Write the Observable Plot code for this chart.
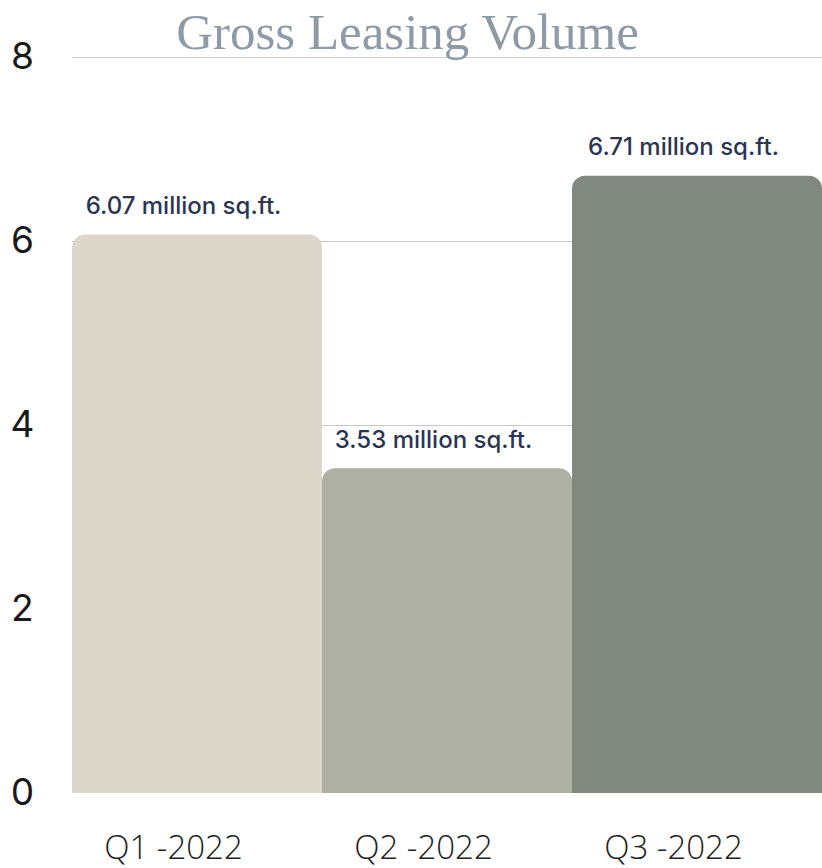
<!DOCTYPE html>
<html><head><meta charset="utf-8">
<script src="https://cdn.jsdelivr.net/npm/d3@7"></script>
<script src="https://cdn.jsdelivr.net/npm/@observablehq/plot@0.6"></script>
<style>body{margin:0;background:#fff}</style>
</head><body><div id="chart"></div>
<script>
const quarters = ["Q1 -2022", "Q2 -2022", "Q3 -2022"];
const values = [6.07, 3.53, 6.71];
const valueLabels = ["6.07 million sq.ft.", "3.53 million sq.ft.", "6.71 million sq.ft."];
const barColors = ["#ddd6cb", "#adb0a3", "#81887d"];
const yTicks = [0, 2, 4, 6, 8];
const gridTicks = [2, 4, 6, 8];
const title = "Gross Leasing Volume";

const data = quarters.map((q, i) => ({q, v: values[i], label: valueLabels[i]}));

const chart = Plot.plot({
  width: 822, height: 868,
  marginLeft: 72, marginRight: 0, marginTop: 57, marginBottom: 75,
  style: {fontFamily: "Inter, sans-serif", background: "white"},
  x: {domain: quarters, padding: 0, label: null},
  y: {domain: [0, 8], label: null},
  color: {domain: quarters, range: barColors},
  marks: [
    Plot.gridY(gridTicks, {stroke: "#c8c8c8", strokeOpacity: 1, strokeWidth: 1}),
    Plot.barY(data, {x: "q", y: "v", fill: "q", rx: 13}),
    Plot.barY(data, {x: "q", y1: 0, y2: d => d.v / 2, fill: "q"}),
    Plot.text(data, {x: "q", y: "v", text: "label", lineAnchor: "bottom", dy: -21, dx: -14,
      fontSize: 24, fontWeight: 500, fill: "#2b3553", style: {letterSpacing: "0.3px"}}),
    Plot.axisY(yTicks, {tickSize: 0, tickPadding: 50, textAnchor: "middle", fontSize: 37,
      tickFormat: "d", fill: "#1a1a1a", label: null}),
    Plot.axisX({tickSize: 0, tickPadding: 42, fontSize: 33, fontWeight: 300, dx: -24,
      fontFamily: "Open Sans", fill: "#222", label: null}),
    Plot.text([title], {frameAnchor: "top", lineAnchor: "bottom", dy: -9, dx: -40,
      fontSize: 51, fontFamily: "Liberation Serif", fill: "#8e9ba6"})
  ]
});
document.getElementById("chart").append(chart);
</script>
</body></html>
